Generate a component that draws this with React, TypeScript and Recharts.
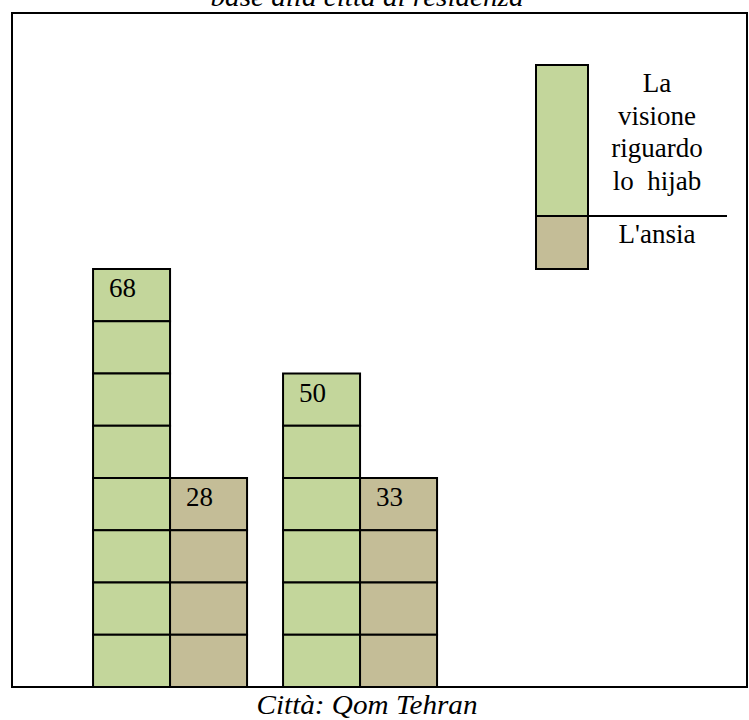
import React from "react";
import { BarChart, Bar, XAxis, YAxis, Legend } from "recharts";

// ---- data ----
const cities = ["Qom", "Tehran"];
const hijabValues = [68, 50];
const anxietyValues = [28, 33];
// number of pictogram blocks drawn for each bar
const hijabBlocks = [8, 6];
const anxietyBlocks = [4, 4];

const seriesNames = ["La visione riguardo lo hijab", "L'ansia"];
const hijabLegendLines = ["La", "visione", "riguardo", "lo  hijab"];
const anxietyLegendLines = ["L'ansia"];
const titleText = "base alla città di residenza";
const xTitle = "Città: Qom Tehran";

const GREEN = "#C3D69B";
const TAN = "#C4BD97";
const FONT = "'Liberation Serif', 'Times New Roman', 'DejaVu Serif', serif";
const txt: React.CSSProperties = { fontFamily: FONT, fontSize: 27 };
const txtIt: React.CSSProperties = { fontFamily: FONT, fontSize: 27, fontStyle: "italic" };

const data = cities.map((c, i) => ({
  city: c,
  hijab: hijabBlocks[i],
  anxiety: anxietyBlocks[i],
  hijabValue: hijabValues[i],
  anxietyValue: anxietyValues[i],
}));

function makeShape(fill: string, blocksKey: string, valueKey: string) {
  return (props: any) => {
    const { x, y, width, height, payload } = props;
    const n = payload[blocksKey];
    const unit = height / n;
    const rects = [];
    for (let k = 0; k < n; k++) {
      rects.push(
        <rect
          key={k}
          x={x}
          y={y + k * unit}
          width={width}
          height={unit}
          fill={fill}
          stroke="#000"
          strokeWidth={2}
        />
      );
    }
    return (
      <g>
        {rects}
        <text x={x + 16} y={y + 28} style={txt} fill="#000">
          {payload[valueKey]}
        </text>
      </g>
    );
  };
}

const LegendContent = () => (
  <svg width={220} height={215} style={{ display: "block" }}>
    <rect x={6} y={5} width={52} height={151} fill={GREEN} stroke="#000" strokeWidth={2} />
    <rect x={6} y={156} width={52} height={53} fill={TAN} stroke="#000" strokeWidth={2} />
    <line x1={58} y1={156} x2={197} y2={156} stroke="#000" strokeWidth={2} />
    {hijabLegendLines.map((t, i) => (
      <text
        key={t}
        x={127}
        y={32 + i * 32.7}
        textAnchor="middle"
        style={{ ...txt, whiteSpace: "pre" }}
        fill="#000"
      >
        {t}
      </text>
    ))}
    {anxietyLegendLines.map((t, i) => (
      <text key={t} x={127} y={183 + i * 32.7} textAnchor="middle" style={txt} fill="#000">
        {t}
      </text>
    ))}
  </svg>
);

export default function App() {
  return (
    <div style={{ position: "absolute", left: 0, top: 0, width: 749, height: 720, background: "#fff" }}>
      <BarChart
        width={749}
        height={720}
        data={data}
        margin={{ top: 269, right: 294, bottom: 33, left: 75 }}
        barCategoryGap="9.5%"
        barGap={0}
      >
        <XAxis dataKey="city" hide />
        <YAxis domain={[0, 8]} hide />
        <Legend
          layout="horizontal"
          verticalAlign="middle"
          align="center"
          wrapperStyle={{ position: "absolute", left: 530, top: 60, width: 220, height: 215 }}
          content={() => <LegendContent />}
        />
        <Bar
          dataKey="hijab"
          name={seriesNames[0]}
          fill={GREEN}
          isAnimationActive={false}
          shape={makeShape(GREEN, "hijab", "hijabValue")}
        />
        <Bar
          dataKey="anxiety"
          name={seriesNames[1]}
          fill={TAN}
          isAnimationActive={false}
          shape={makeShape(TAN, "anxiety", "anxietyValue")}
        />
      </BarChart>
      <svg
        width={749}
        height={720}
        style={{ position: "absolute", left: 0, top: 0, pointerEvents: "none" }}
      >
        <rect x={12} y={13} width={735} height={674} fill="none" stroke="#000" strokeWidth={2} />
        <text
          x={367}
          y={6}
          textAnchor="middle"
          textLength={313}
          lengthAdjust="spacingAndGlyphs"
          style={{ ...txtIt, fontSize: 28 }}
          fill="#000"
        >
          {titleText}
        </text>
        <text
          x={367}
          y={714}
          textAnchor="middle"
          textLength={221}
          lengthAdjust="spacingAndGlyphs"
          style={txtIt}
          fill="#000"
        >
          {xTitle}
        </text>
      </svg>
    </div>
  );
}
